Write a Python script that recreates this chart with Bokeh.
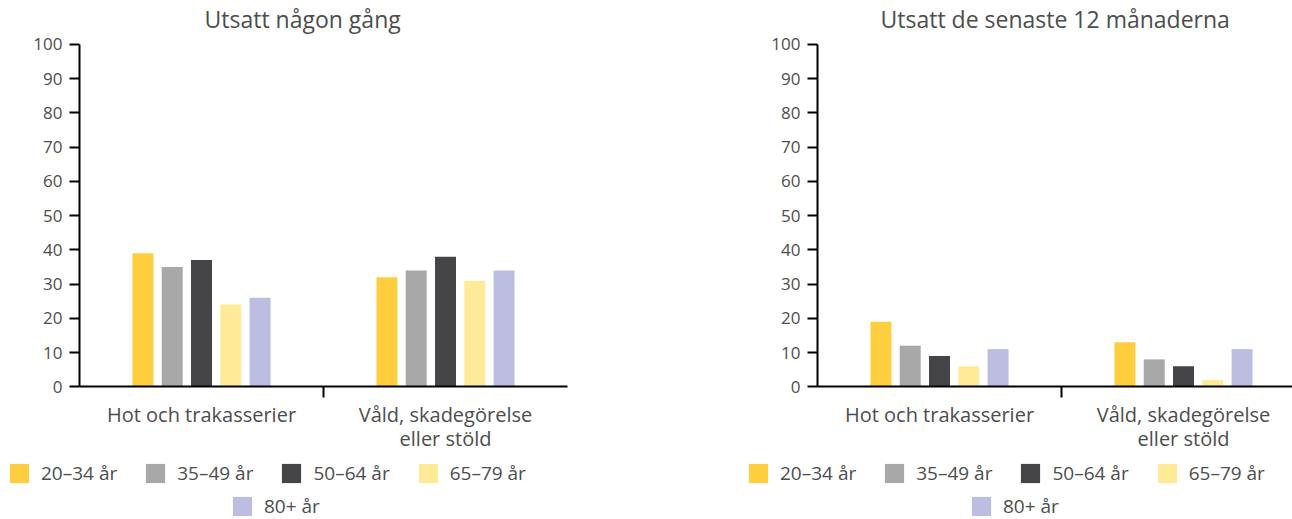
from bokeh.plotting import figure
from bokeh.layouts import row
from bokeh.models import Range1d, FixedTicker, Legend, LegendItem
from bokeh.embed import file_html
from bokeh.resources import INLINE

# ---- data ----
categories = ["Hot och trakasserier", "Våld, skadegörelse\neller stöld"]
age_groups = ["20–34 år", "35–49 år", "50–64 år", "65–79 år", "80+ år"]
colors = ["#FECE3F", "#A8A8A8", "#454547", "#FFEB97", "#BBBDE1"]
y_ticks = [0, 10, 20, 30, 40, 50, 60, 70, 80, 90, 100]

ever_20_34 = [39, 32]
ever_35_49 = [35, 34]
ever_50_64 = [37, 38]
ever_65_79 = [24, 31]
ever_80 = [26, 34]

recent_20_34 = [19, 13]
recent_35_49 = [12, 8]
recent_50_64 = [9, 6]
recent_65_79 = [6, 2]
recent_80 = [11, 11]

ever_series = [ever_20_34, ever_35_49, ever_50_64, ever_65_79, ever_80]
recent_series = [recent_20_34, recent_35_49, recent_50_64, recent_65_79, recent_80]

# ---- layout / style ----
FONT = "Open Sans"
TXT = "#4d4d4d"
H = 519            # figure height
TOP = 33           # frame top
ZERO_Y = 386       # pixel row of y = 0
PX_PER_UNIT_Y = 3.43
PX_PER_CAT = 244
BAR_W = 0.086
STEP = 0.12


def make_chart(title, series, width, axis_x, title_offset, leg1_x, leg2_x):
    # axis_x: pixel position (inside the figure) of the y axis (x = -0.5)
    x_start = -0.5 - axis_x / PX_PER_CAT
    x_end = -0.5 + (width - axis_x) / PX_PER_CAT
    y_start = -(H - ZERO_Y) / PX_PER_UNIT_Y
    y_end = (ZERO_Y - TOP) / PX_PER_UNIT_Y
    p = figure(width=width, height=H, x_range=Range1d(x_start, x_end),
               y_range=Range1d(y_start, y_end),
               output_backend="svg", toolbar_location=None,
               min_border_left=0, min_border_right=0,
               min_border_top=TOP, min_border_bottom=0)
    p.outline_line_color = None
    p.grid.visible = False
    p.background_fill_color = "white"
    p.border_fill_color = "white"

    renderers = []
    n = len(series)
    for j, vals in enumerate(series):
        xs = [i + (j - (n - 1) / 2) * STEP for i in range(len(categories))]
        r = p.vbar(x=xs, top=vals, bottom=0, width=BAR_W, color=colors[j], line_color=None)
        renderers.append(r)

    # title
    p.title.text = title
    p.title.align = "left"
    p.title.offset = title_offset
    p.title.text_font = FONT
    p.title.text_font_size = "23px"
    p.title.text_font_style = "normal"
    p.title.text_color = TXT
    p.title.standoff = 0

    # y axis
    ya = p.yaxis[0]
    ya.fixed_location = -0.5
    ya.bounds = (y_ticks[0], y_ticks[-1])
    ya.ticker = FixedTicker(ticks=y_ticks)
    ya.axis_line_color = "black"
    ya.axis_line_width = 2
    ya.major_tick_line_color = "black"
    ya.major_tick_line_width = 2
    ya.major_tick_out = 10
    ya.major_tick_in = 0
    ya.minor_tick_line_color = None
    ya.major_label_text_font = FONT
    ya.major_label_text_font_size = "17px"
    ya.major_label_text_color = TXT
    ya.major_label_standoff = 7

    # x axis
    xa = p.xaxis[0]
    xa.fixed_location = 0
    xa.bounds = (-0.5, len(categories) - 0.5)
    centers = list(range(len(categories)))
    bounds = [i + 0.5 for i in range(len(categories) - 1)]
    xa.ticker = FixedTicker(ticks=centers, minor_ticks=bounds)
    xa.major_label_overrides = {i: c for i, c in enumerate(categories)}
    xa.axis_line_color = "black"
    xa.axis_line_width = 2
    xa.major_tick_line_color = None
    xa.major_tick_out = 0
    xa.major_tick_in = 0
    xa.minor_tick_line_color = "black"
    xa.minor_tick_line_width = 2
    xa.minor_tick_out = 11
    xa.minor_tick_in = 0
    xa.major_label_text_font = FONT
    xa.major_label_text_font_size = "20px"
    xa.major_label_text_line_height = 0.88
    xa.major_label_text_color = TXT
    xa.major_label_standoff = 3

    items = [LegendItem(label=age_groups[j], renderers=[renderers[j]]) for j in range(n)]
    for its, lx, ly in ((items[:4], leg1_x, 33), (items[4:], leg2_x, 0)):
        leg = Legend(items=its, orientation="horizontal", location=(lx, ly),
                     border_line_color=None, background_fill_alpha=0,
                     padding=0, margin=0, spacing=26, label_standoff=10,
                     glyph_width=24, glyph_height=24,
                     label_text_font=FONT, label_text_font_size="19px",
                     label_text_color=TXT)
        p.add_layout(leg)
    return p


left = make_chart("Utsatt någon gång", ever_series, 597, 79, 204, 7, 230)
right = make_chart("Utsatt de senaste 12 månaderna", recent_series, 695, 220, 283, 149, 372)

layout = row(left, right)
open("out.html", "w").write(file_html(layout, INLINE))
